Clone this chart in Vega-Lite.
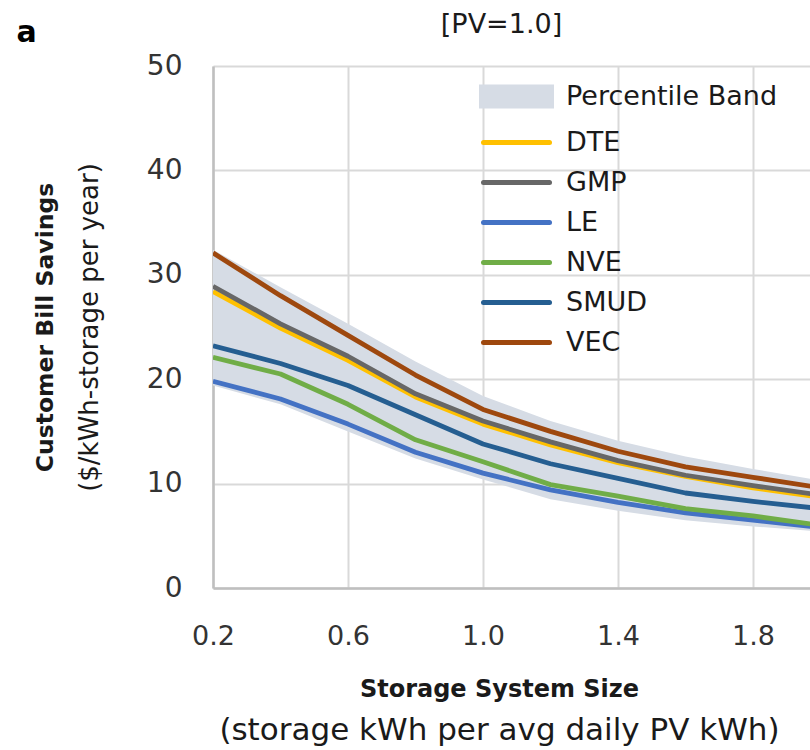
{
  "$schema": "https://vega.github.io/schema/vega-lite/v6.json",
  "width": 597,
  "height": 522,
  "autosize": {"type": "none"},
  "padding": {"left": 213, "top": 66, "right": 0, "bottom": 162},
  "background": "white",
  "title": {
    "text": "Storage System Size",
    "subtitle": "(storage  kWh per avg daily PV kWh)",
    "orient": "bottom",
    "anchor": "middle",
    "dx": -12,
    "offset": 29,
    "font": "DejaVu Sans",
    "fontSize": 24,
    "fontWeight": "bold",
    "color": "#1a1a1a",
    "subtitleFont": "DejaVu Sans",
    "subtitleFontSize": 31,
    "subtitleColor": "#1a1a1a",
    "subtitlePadding": 14
  },
  "config": {
    "view": {"stroke": null},
    "axis": {"ticks": false, "labelFlush": false, "labelOverlap": false}
  },
  "datasets": {
    "band": [
      {"size": 0.2, "low": 19.4, "high": 32.4, "series": "Percentile Band"},
      {"size": 0.4, "low": 17.6, "high": 28.8, "series": "Percentile Band"},
      {"size": 0.6, "low": 15.0, "high": 25.3, "series": "Percentile Band"},
      {"size": 0.8, "low": 12.4, "high": 21.7, "series": "Percentile Band"},
      {"size": 1.0, "low": 10.4, "high": 18.4, "series": "Percentile Band"},
      {"size": 1.2, "low": 8.5, "high": 16.0, "series": "Percentile Band"},
      {"size": 1.4, "low": 7.4, "high": 14.1, "series": "Percentile Band"},
      {"size": 1.6, "low": 6.5, "high": 12.6, "series": "Percentile Band"},
      {"size": 1.8, "low": 5.9, "high": 11.4, "series": "Percentile Band"},
      {"size": 2.0, "low": 5.4, "high": 10.3, "series": "Percentile Band"}
    ],
    "lines": [
      {"series": "DTE", "size": 0.2, "savings": 28.4},
      {"series": "DTE", "size": 0.4, "savings": 24.9},
      {"series": "DTE", "size": 0.6, "savings": 21.8},
      {"series": "DTE", "size": 0.8, "savings": 18.3},
      {"series": "DTE", "size": 1.0, "savings": 15.7},
      {"series": "DTE", "size": 1.2, "savings": 13.7},
      {"series": "DTE", "size": 1.4, "savings": 12.0},
      {"series": "DTE", "size": 1.6, "savings": 10.7},
      {"series": "DTE", "size": 1.8, "savings": 9.6},
      {"series": "DTE", "size": 2.0, "savings": 8.7},
      {"series": "GMP", "size": 0.2, "savings": 28.9},
      {"series": "GMP", "size": 0.4, "savings": 25.3},
      {"series": "GMP", "size": 0.6, "savings": 22.2},
      {"series": "GMP", "size": 0.8, "savings": 18.6},
      {"series": "GMP", "size": 1.0, "savings": 16.0},
      {"series": "GMP", "size": 1.2, "savings": 14.0},
      {"series": "GMP", "size": 1.4, "savings": 12.2},
      {"series": "GMP", "size": 1.6, "savings": 10.8},
      {"series": "GMP", "size": 1.8, "savings": 9.8},
      {"series": "GMP", "size": 2.0, "savings": 8.9},
      {"series": "LE", "size": 0.2, "savings": 19.8},
      {"series": "LE", "size": 0.4, "savings": 18.1},
      {"series": "LE", "size": 0.6, "savings": 15.7},
      {"series": "LE", "size": 0.8, "savings": 13.0},
      {"series": "LE", "size": 1.0, "savings": 11.0},
      {"series": "LE", "size": 1.2, "savings": 9.4},
      {"series": "LE", "size": 1.4, "savings": 8.2},
      {"series": "LE", "size": 1.6, "savings": 7.2},
      {"series": "LE", "size": 1.8, "savings": 6.5},
      {"series": "LE", "size": 2.0, "savings": 5.8},
      {"series": "NVE", "size": 0.2, "savings": 22.1},
      {"series": "NVE", "size": 0.4, "savings": 20.5},
      {"series": "NVE", "size": 0.6, "savings": 17.6},
      {"series": "NVE", "size": 0.8, "savings": 14.2},
      {"series": "NVE", "size": 1.0, "savings": 12.1},
      {"series": "NVE", "size": 1.2, "savings": 9.9},
      {"series": "NVE", "size": 1.4, "savings": 8.8},
      {"series": "NVE", "size": 1.6, "savings": 7.6},
      {"series": "NVE", "size": 1.8, "savings": 6.9},
      {"series": "NVE", "size": 2.0, "savings": 6.0},
      {"series": "SMUD", "size": 0.2, "savings": 23.2},
      {"series": "SMUD", "size": 0.4, "savings": 21.5},
      {"series": "SMUD", "size": 0.6, "savings": 19.4},
      {"series": "SMUD", "size": 0.8, "savings": 16.6},
      {"series": "SMUD", "size": 1.0, "savings": 13.8},
      {"series": "SMUD", "size": 1.2, "savings": 11.9},
      {"series": "SMUD", "size": 1.4, "savings": 10.5},
      {"series": "SMUD", "size": 1.6, "savings": 9.1},
      {"series": "SMUD", "size": 1.8, "savings": 8.3},
      {"series": "SMUD", "size": 2.0, "savings": 7.6},
      {"series": "VEC", "size": 0.2, "savings": 32.1},
      {"series": "VEC", "size": 0.4, "savings": 28.0},
      {"series": "VEC", "size": 0.6, "savings": 24.2},
      {"series": "VEC", "size": 0.8, "savings": 20.4},
      {"series": "VEC", "size": 1.0, "savings": 17.1},
      {"series": "VEC", "size": 1.2, "savings": 15.0},
      {"series": "VEC", "size": 1.4, "savings": 13.1},
      {"series": "VEC", "size": 1.6, "savings": 11.6},
      {"series": "VEC", "size": 1.8, "savings": 10.6},
      {"series": "VEC", "size": 2.0, "savings": 9.6}
    ]
  },
  "layer": [
    {
      "data": {"name": "band"},
      "mark": {"type": "area", "clip": true},
      "encoding": {
        "x": {
          "field": "size",
          "type": "quantitative",
          "scale": {"domain": [0.2, 1.969], "nice": false, "zero": false},
          "axis": {
            "orient": "bottom",
            "values": [0.2, 0.6, 1.0, 1.4, 1.8],
            "format": ".1f",
            "labelFont": "DejaVu Sans",
            "labelFontSize": 27,
            "labelColor": "#333333",
            "labelPadding": 35,
            "grid": true,
            "gridColor": "#d9d9d9",
            "gridWidth": 2,
            "domain": true,
            "domainColor": "#bfbfbf",
            "domainWidth": 2.5,
            "title": "a",
            "titleFont": "DejaVu Sans",
            "titleFontSize": 30,
            "titleFontWeight": "bold",
            "titleColor": "#000000",
            "titleAngle": 0,
            "titleAlign": "center",
            "titleBaseline": "middle",
            "titleX": -187,
            "titleY": -556
          }
        },
        "y": {
          "field": "high",
          "type": "quantitative",
          "scale": {"domain": [0, 50], "nice": false, "zero": true},
          "axis": {
            "orient": "left",
            "values": [0, 10, 20, 30, 40, 50],
            "labelFont": "DejaVu Sans",
            "labelFontSize": 28,
            "labelColor": "#333333",
            "labelPadding": 31,
            "grid": true,
            "gridColor": "#d9d9d9",
            "gridWidth": 2,
            "domain": true,
            "domainColor": "#bfbfbf",
            "domainWidth": 2.5,
            "title": "($/kWh-storage per year)",
            "titleFont": "DejaVu Sans",
            "titleFontSize": 26,
            "titleFontWeight": "normal",
            "titleColor": "#1a1a1a",
            "titlePadding": 44
          }
        },
        "y2": {"field": "low"},
        "color": {
          "field": "series",
          "type": "nominal",
          "scale": {
            "domain": ["Percentile Band", "DTE", "GMP", "LE", "NVE", "SMUD", "VEC"],
            "range": ["#d6dce5", "#ffc000", "#676767", "#4472c4", "#70ad47", "#255e91", "#9e480e"]
          },
          "legend": {
            "orient": "none",
            "legendX": 290,
            "legendY": 17,
            "title": null,
            "padding": 0,
            "labelFont": "DejaVu Sans",
            "labelFontSize": 27,
            "labelColor": "#1a1a1a",
            "labelOffset": 36,
            "labelLimit": 0,
            "rowPadding": 12,
            "symbolSize": 400,
            "encode": {
              "symbols": {
                "update": {
                  "shape": {"signal": "datum.label === 'Percentile Band' ? 'M-3.5,-0.95H3.5V0.95H-3.5Z' : 'M-3.3,0H3.3'"},
                  "fill": {"signal": "datum.label === 'Percentile Band' ? '#d6dce5' : 'transparent'"},
                  "stroke": {"signal": "datum.label === 'Percentile Band' ? 'transparent' : scale('color', datum.value)"},
                  "strokeWidth": {"value": 5},
                  "strokeCap": {"value": "round"},
                  "size": {"value": 400},
                  "opacity": {"value": 1}
                }
              }
            }
          }
        }
      }
    },
    {
      "data": {"name": "lines"},
      "mark": {"type": "line", "strokeWidth": 4.8, "strokeJoin": "round", "clip": true},
      "encoding": {
        "x": {
          "field": "size",
          "type": "quantitative",
          "scale": {"domain": [0.2, 1.969], "nice": false, "zero": false},
          "axis": {
            "orient": "top",
            "labels": false,
            "grid": false,
            "domain": false,
            "ticks": false,
            "title": "[PV=1.0]",
            "titleFont": "DejaVu Sans",
            "titleFontSize": 27,
            "titleFontWeight": "normal",
            "titleColor": "#1a1a1a",
            "titlePadding": 28,
            "titleX": 288
          }
        },
        "y": {
          "field": "savings",
          "type": "quantitative",
          "scale": {"domain": [0, 50], "nice": false, "zero": true},
          "axis": {
            "orient": "left",
            "labels": false,
            "grid": false,
            "domain": false,
            "ticks": false,
            "offset": 152,
            "title": "Customer Bill Savings",
            "titleFont": "DejaVu Sans",
            "titleFontSize": 23.5,
            "titleFontWeight": "bold",
            "titleColor": "#1a1a1a",
            "titlePadding": 4
          }
        },
        "color": {"field": "series", "type": "nominal"}
      }
    }
  ],
  "resolve": {
    "scale": {"x": "independent", "y": "independent"},
    "axis": {"x": "independent", "y": "independent"}
  }
}
